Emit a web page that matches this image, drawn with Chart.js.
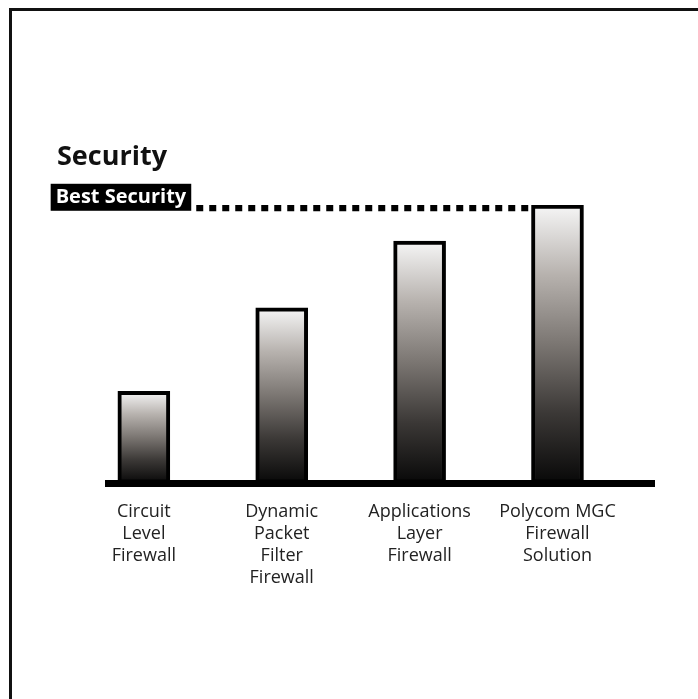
<!DOCTYPE html>
<html>
<head>
<meta charset="utf-8">
<script src="https://cdn.jsdelivr.net/npm/chart.js@4.4.1/dist/chart.umd.min.js"></script>
<style>
    html, body { margin: 0; padding: 0; background: #fff; overflow: hidden; }
    #frame { position: absolute; left: 9px; top: 8px; width: 760px; height: 760px; border: 3px solid #111; }
    #wrap { position: absolute; left: 0; top: 0; width: 698px; height: 699px; }
</style>
</head>
<body>
<div id="frame"></div>
<div id="wrap"><canvas id="securityChart"></canvas></div>
<script>
// categories sit at x = 0..3 on a linear scale so the axis line can overhang them
var categories = [
    ["Circuit", "Level", "Firewall"],
    ["Dynamic", "Packet", "Filter", "Firewall"],
    ["Applications", "Layer", "Firewall"],
    ["Polycom MGC", "Firewall", "Solution"]
];
var positions = [0, 1, 2, 3];
var securityLevel = [33, 63, 87, 100];
var bestSecurityLevel = 99;
var bestSecurityFrom = 0.38;
var bestSecurityTo = 2.81;
var chartTitle = "Security";
var bestSecurityLabel = "Best Security";

function barGradient(context) {
    var chart = context.chart;
    if (!chart.chartArea || !context.raw) {
        return "#888";
    }
    var yScale = chart.scales.y;
    var top = yScale.getPixelForValue(context.raw.y);
    var bottom = yScale.getPixelForValue(0);
    var g = chart.ctx.createLinearGradient(0, top, 0, bottom);
    g.addColorStop(0, "#f6f6f6");
    g.addColorStop(0.25, "#b7b2ae");
    g.addColorStop(0.5, "#7b7672");
    g.addColorStop(0.75, "#3b3836");
    g.addColorStop(1, "#080808");
    return g;
}

var annotations = {
    id: "annotations",
    afterDatasetsDraw: function(chart) {
        var ctx = chart.ctx;
        var x = chart.scales.x;
        var y = chart.scales.y;
        ctx.save();
        ctx.textBaseline = "alphabetic";
        ctx.fillStyle = "#111";
        ctx.font = "bold 27px 'Open Sans'";
        ctx.fillText(chartTitle, 57, 165);

        var lineY = y.getPixelForValue(bestSecurityLevel);
        var lineX = x.getPixelForValue(bestSecurityFrom);
        ctx.font = "bold 20px 'Open Sans'";
        var w = ctx.measureText(bestSecurityLabel).width;
        var right = lineX - 5;
        var left = right - w - 10;
        ctx.fillStyle = "#000";
        ctx.fillRect(left, lineY - 24, right - left, 27);
        ctx.fillStyle = "#fff";
        ctx.fillText(bestSecurityLabel, left + 5, lineY - 5);
        ctx.restore();
    }
};

var bestLine = [
    { x: bestSecurityFrom, y: bestSecurityLevel },
    { x: bestSecurityTo, y: bestSecurityLevel }
];
var bars = positions.map(function(p, i) {
    return { x: p, y: securityLevel[i] };
});

var securityChart = new Chart(document.getElementById("securityChart"), {
    type: "bar",
    data: {
        datasets: [
            {
                type: "line",
                label: bestSecurityLabel,
                data: bestLine,
                borderColor: "#000",
                borderWidth: 7,
                borderDash: [7, 6],
                borderCapStyle: "butt",
                pointRadius: 0,
                fill: false,
                order: 2
            },
            {
                type: "bar",
                label: chartTitle,
                data: bars,
                backgroundColor: barGradient,
                borderColor: "#000",
                borderWidth: 4,
                borderSkipped: false,
                barThickness: 52,
                order: 1
            }
        ]
    },
    options: {
        responsive: true,
        maintainAspectRatio: false,
        animation: false,
        layout: { padding: { top: 205, left: 108, right: 44, bottom: 92 } },
        plugins: {
            legend: { display: false },
            tooltip: { enabled: false }
        },
        scales: {
            x: {
                type: "linear",
                min: -0.26,
                max: 3.7,
                offset: false,
                grid: { display: false, drawTicks: false },
                border: { display: true, color: "#000", width: 7 },
                afterBuildTicks: function(axis) {
                    axis.ticks = positions.map(function(p) { return { value: p }; });
                },
                ticks: {
                    autoSkip: false,
                    maxRotation: 0,
                    padding: 18,
                    color: "#222",
                    font: { family: "'Open Sans'", size: 18, lineHeight: 1.22 },
                    callback: function(value) {
                        return categories[value];
                    }
                }
            },
            y: { display: false, min: 0, max: 100 }
        }
    },
    plugins: [annotations]
});
</script>
</body>
</html>
